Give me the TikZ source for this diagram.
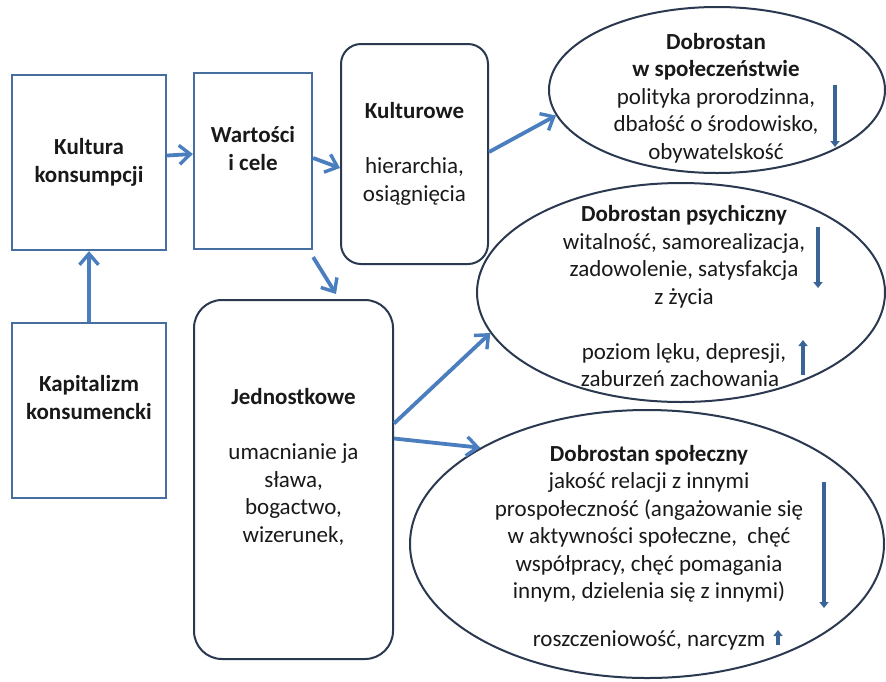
\documentclass[tikz,border=0pt]{standalone}
\usepackage{fontspec}
\setmainfont{Carlito}
\usetikzlibrary{shapes.geometric,arrows.meta,calc}
\definecolor{arrowblue}{RGB}{74,126,190}
\definecolor{rectblue}{RGB}{70,110,160}
\definecolor{darkline}{RGB}{42,56,80}
\definecolor{smallarrow}{RGB}{58,100,150}
\definecolor{txt}{RGB}{25,25,25}
\begin{document}
\begin{tikzpicture}[x=1pt,y=-1pt,
  every node/.style={font=\fontsize{23}{27.5}\selectfont, text=txt},
  sqbox/.style={draw=rectblue, line width=2.3pt, rectangle, inner sep=0pt},
  rbox/.style={draw=darkline, line width=2pt, rectangle, rounded corners=#1, inner sep=0pt},
  ell/.style={draw=darkline, line width=2pt, ellipse, inner sep=0pt},
  txtnode/.style={align=center, inner sep=0pt},
  bigarrow/.style={draw=arrowblue, line width=3.8pt, -{Straight Barb[length=11pt,width=19pt,line width=3.4pt]}},
  smallarr/.style={draw=smallarrow, line width=3.6pt, -{Triangle[length=6pt,width=9pt]}}
]
\useasboundingbox[fill=white] (0,0) rectangle (886,681);

% shapes
\node[sqbox, minimum width=154pt, minimum height=175pt] (kultura) at (89,162.5) {};
\node[sqbox, minimum width=118pt, minimum height=176pt] (wartosci) at (253,161) {};
\node[rbox=20pt, minimum width=147pt, minimum height=220pt] (kulturowe) at (414.5,154) {};
\node[sqbox, minimum width=154pt, minimum height=175pt] (kapital) at (89,410.5) {};
\node[rbox=28pt, minimum width=199pt, minimum height=359pt] (jedn) at (293.5,479.5) {};
\node[ell, minimum width=336pt, minimum height=166pt] (e1) at (717,90) {};
\node[ell, minimum width=408pt, minimum height=219pt] (e2) at (681,292.5) {};
\node[ell, minimum width=474pt, minimum height=268pt] (e3) at (647,544) {};

% texts
\node[txtnode] (kulturaT) at (89,162.5) {\textbf{Kultura}\\\textbf{konsumpcji}};
\node[txtnode] (wartosciT) at (253,148.5) {\textbf{Wartości}\\\textbf{i cele}};
\node[txtnode] (kulturoweT) at (414.5,154) {\textbf{Kulturowe}\\[27.5pt]hierarchia,\\osiągnięcia};
\node[txtnode] (kapitalT) at (89,397.5) {\textbf{Kapitalizm}\\\textbf{konsumencki}};
\node[txtnode] (jednT) at (293.5,467) {\textbf{Jednostkowe}\\[27.5pt]umacnianie ja\\sława,\\bogactwo,\\wizerunek,};
\node[txtnode] (e1T) at (716,98) {\textbf{Dobrostan}\\\textbf{w społeczeństwie}\\polityka prorodzinna,\\dbałość o środowisko,\\obywatelskość};
\node[txtnode] (e2T) at (684,296.5) {\textbf{Dobrostan psychiczny}\\witalność, samorealizacja,\\zadowolenie, satysfakcja\\z życia\\[27.5pt]poziom lęku, depresji,\hspace*{8pt}\\zaburzeń zachowania\hspace*{8pt}};
\node[txtnode] (e3T) at (649,547.5) {\textbf{Dobrostan społeczny}\\jakość relacji z innymi\\prospołeczność (angażowanie się\\w aktywności społeczne,\ \ chęć\\współpracy, chęć pomagania\\innym, dzielenia się z innymi)\\[20pt]roszczeniowość, narcyzm};

% connectors
\draw[bigarrow] ([yshift=7pt]kultura.east) -- ([yshift=7pt]wartosci.west);
\draw[bigarrow] ([yshift=3pt]wartosci.east) -- ([yshift=-14pt]kulturowe.west);
\draw[bigarrow] ([xshift=0pt,yshift=-7pt]wartosci.south east) -- ([xshift=143pt,yshift=5pt]jedn.north west);
\draw[bigarrow] (kapital.north) -- (kultura.south);
\draw[bigarrow] ([yshift=2pt]kulturowe.east) -- (e1.189);
\draw[bigarrow] ([yshift=56pt]jedn.east) -- (e2.192);
\draw[bigarrow] ([yshift=41pt]jedn.east) -- (e3.150);

% small trend arrows
\coordinate (d1a) at (835,85);  \coordinate (d1b) at (835,147);
\coordinate (d2a) at (818,227); \coordinate (d2b) at (818,288);
\coordinate (u2a) at (803,375); \coordinate (u2b) at (803,340);
\coordinate (d3a) at (824,482); \coordinate (d3b) at (824,608);
\coordinate (u3a) at (778,645); \coordinate (u3b) at (778,630);
\draw[smallarr] (d1a) -- (d1b);
\draw[smallarr] (d2a) -- (d2b);
\draw[smallarr] (u2a) -- (u2b);
\draw[smallarr] (d3a) -- (d3b);
\draw[smallarr] (u3a) -- (u3b);
\end{tikzpicture}
\end{document}
